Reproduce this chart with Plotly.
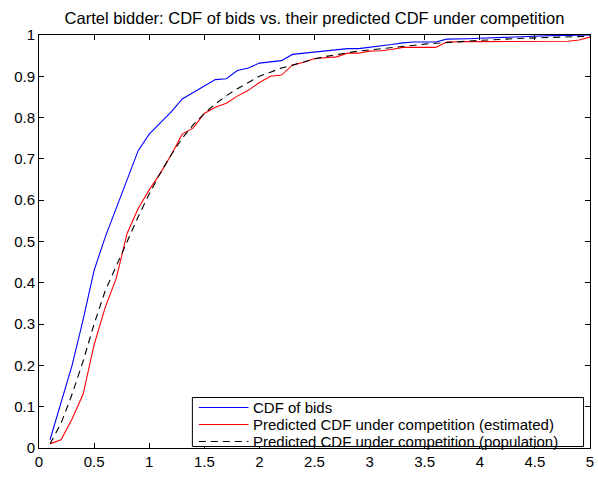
import plotly.graph_objects as go

x_vals = [round(0.1 * i, 1) for i in range(1, 51)]

cdf_bids = [0.02, 0.11, 0.20, 0.31, 0.43, 0.51, 0.58, 0.65, 0.72, 0.76,
            0.787, 0.814, 0.845, 0.86, 0.877, 0.892, 0.894, 0.914, 0.92, 0.932,
            0.935, 0.938, 0.953, 0.956, 0.958, 0.961, 0.964, 0.967, 0.967, 0.97,
            0.973, 0.977, 0.981, 0.983, 0.983, 0.983, 0.99, 0.99, 0.991, 0.992,
            0.993, 0.995, 0.996, 0.997, 0.998, 0.998, 0.999, 0.999, 1.0, 1.0]

pred_est = [0.01, 0.02, 0.07, 0.13, 0.25, 0.34, 0.41, 0.52, 0.58, 0.625,
            0.665, 0.71, 0.76, 0.775, 0.81, 0.825, 0.835, 0.852, 0.866, 0.885,
            0.90, 0.903, 0.927, 0.934, 0.943, 0.945, 0.947, 0.956, 0.956, 0.961,
            0.962, 0.965, 0.97, 0.97, 0.97, 0.97, 0.983, 0.984, 0.984, 0.984,
            0.984, 0.984, 0.985, 0.985, 0.985, 0.985, 0.985, 0.985, 0.988, 0.995]

pred_pop = [0.01, 0.06, 0.13, 0.21, 0.30, 0.38, 0.44, 0.50, 0.56, 0.615,
            0.665, 0.71, 0.75, 0.783, 0.81, 0.833, 0.853, 0.87, 0.886, 0.90,
            0.91, 0.92, 0.927, 0.935, 0.942, 0.948, 0.953, 0.957, 0.961, 0.964,
            0.967, 0.97, 0.973, 0.976, 0.978, 0.98, 0.982, 0.984, 0.986, 0.987,
            0.988, 0.99, 0.991, 0.992, 0.993, 0.994, 0.995, 0.996, 0.996, 0.997]

series_names = ["CDF of bids",
                "Predicted CDF under competition (estimated)",
                "Predicted CDF under competition (population)"]

x_ticks = [0, 0.5, 1, 1.5, 2, 2.5, 3, 3.5, 4, 4.5, 5]
x_tick_text = ["0", "0.5", "1", "1.5", "2", "2.5", "3", "3.5", "4", "4.5", "5"]
y_ticks = [0, 0.1, 0.2, 0.3, 0.4, 0.5, 0.6, 0.7, 0.8, 0.9, 1]
y_tick_text = ["0", "0.1", "0.2", "0.3", "0.4", "0.5", "0.6", "0.7", "0.8", "0.9", "1"]

FONT = "Liberation Sans, Arial, Helvetica, sans-serif"
colors = ["#0000ff", "#ff0000", "#000000"]
dashes = ["solid", "solid", "7px,5px"]

fig = go.Figure()
for ys, name, c, d in zip([cdf_bids, pred_est, pred_pop], series_names, colors, dashes):
    fig.add_trace(go.Scatter(x=x_vals, y=ys, mode="lines", name=name,
                             line=dict(color=c, width=1.1, dash=d),
                             showlegend=False))

W, H = 598, 494
ml, mr, mt, mb = 39, 4, 35, 46

fig.update_layout(
    width=W, height=H,
    margin=dict(l=ml, r=mr, t=mt, b=mb),
    paper_bgcolor="white", plot_bgcolor="white",
    font=dict(family=FONT, size=15, color="black"),
    title=dict(text="Cartel bidder: CDF of bids vs. their predicted CDF under competition",
               x=0.5, xref="paper", xanchor="center",
               y=1 - 18 / H, yref="container", yanchor="middle",
               font=dict(family=FONT, size=16.5, color="black")),
    xaxis=dict(range=[0, 5], tickvals=x_ticks, ticktext=x_tick_text,
               ticks="inside", ticklen=5, tickwidth=1, tickcolor="black",
               showline=True, linecolor="black", linewidth=1, mirror="ticks",
               showgrid=False, zeroline=False, ticklabeloverflow="allow",
               tickfont=dict(family=FONT, size=15)),
    yaxis=dict(range=[0, 1], tickvals=y_ticks, ticktext=y_tick_text,
               ticks="inside", ticklen=5, tickwidth=1, tickcolor="black",
               showline=True, linecolor="black", linewidth=1, mirror="ticks",
               showgrid=False, zeroline=False, ticklabeloverflow="allow",
               tickfont=dict(family=FONT, size=15)),
)

# legend box drawn in paper coordinates
pw = W - ml - mr
ph = H - mt - mb
def px_x(p):
    return (p - ml) / pw
def px_y(p):
    return (H - mb - p) / ph

box_l, box_r, box_t, box_b = 193.5, 587.5, 397.5, 446.5
fig.add_shape(type="rect", xref="paper", yref="paper",
              x0=px_x(box_l), x1=px_x(box_r), y0=px_y(box_b), y1=px_y(box_t),
              line=dict(color="black", width=1), fillcolor="white", layer="above")
rows = [407.5, 424.5, 441.5]
for name, c, d, ry in zip(series_names, colors, dashes, rows):
    fig.add_shape(type="line", xref="paper", yref="paper",
                  x0=px_x(200), x1=px_x(250), y0=px_y(ry), y1=px_y(ry),
                  line=dict(color=c, width=1, dash=d), layer="above")
    fig.add_annotation(xref="paper", yref="paper", x=px_x(254), y=px_y(ry),
                       text=name, showarrow=False, xanchor="left", yanchor="middle",
                       borderpad=0,
                       font=dict(family=FONT, size=15, color="black"))

fig.write_html("out.html", config={"displayModeBar": False},
               post_script="document.body.style.margin='0';")
